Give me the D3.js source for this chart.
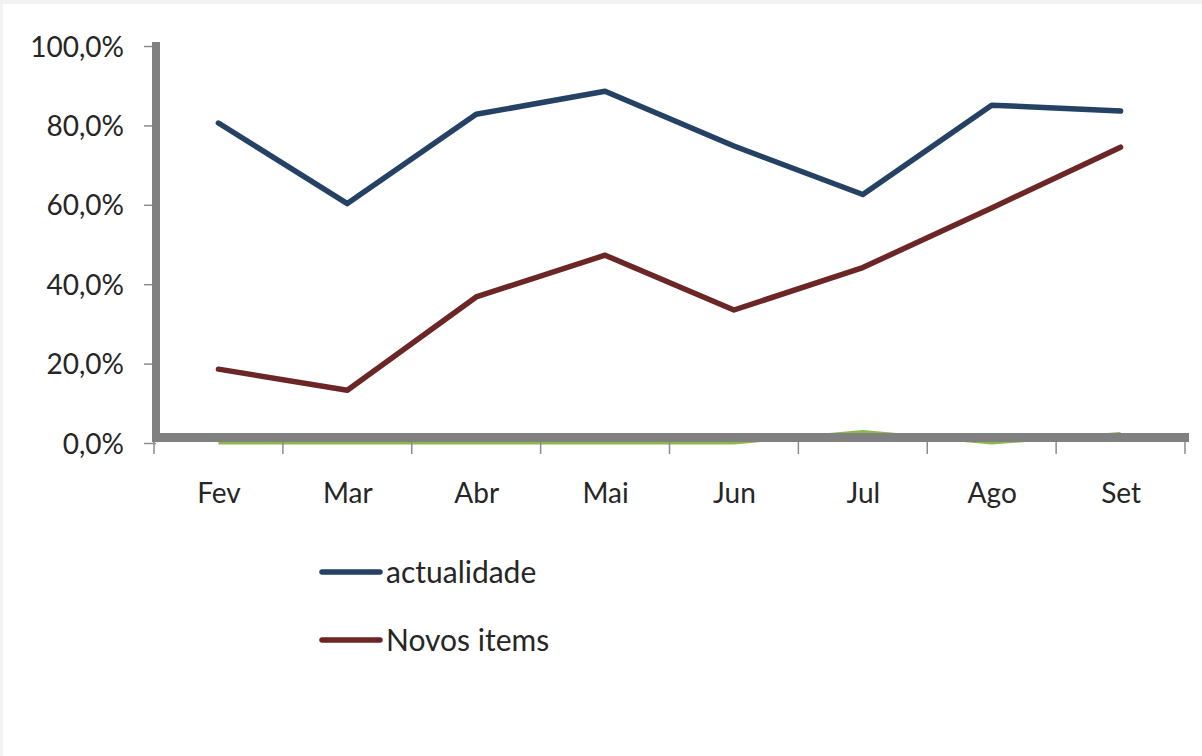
<!DOCTYPE html>
<html>
<head>
<meta charset="utf-8">
<script src="https://cdnjs.cloudflare.com/ajax/libs/d3/7.8.5/d3.min.js"></script>
<style>
  html, body { margin: 0; padding: 0; background: #f2f2f2; overflow: hidden; }
  svg { position: absolute; left: 3px; top: 4px; background: #ffffff; }
  text { font-family: Lato, "Liberation Sans", sans-serif; fill: #262626; }
</style>
</head>
<body>
<svg id="chart" width="1199" height="752"></svg>
<script>
// meses
var meses = ["Fev", "Mar", "Abr", "Mai", "Jun", "Jul", "Ago", "Set"];

// valores em %
var actualidade = [80.6, 60.3, 82.8, 88.6, 74.8, 62.6, 85.1, 83.6];
var novosItems  = [18.6, 13.3, 36.8, 47.3, 33.5, 44.2, 59.2, 74.5];
var outros      = [0, 0, 0, 0, 0, 2.9, 0, 2.4];

var yTicks = [0, 20, 40, 60, 80, 100];

var series = [
	{nome: "actualidade", valores: actualidade, cor: "#254264", legenda: true},
	{nome: "Novos items", valores: novosItems, cor: "#6b2625", legenda: true},
	{nome: "outros", valores: outros, cor: "#8fb84a", legenda: false}
];

// svg is offset by (3,4) inside the page
var ox = 3, oy = 4;
var svg = d3.select("#chart");
var g = svg.append("g").attr("transform", "translate(" + (-ox) + "," + (-oy) + ")");

var xBand = d3.scaleBand().domain(meses).range([154, 1185]);
var x = d3.scalePoint().domain(meses).range([154, 1185]).padding(0.5);
var y = d3.scaleLinear().domain([0, 100]).range([443, 46]);

var fmt = function(v){ return d3.format(".1f")(v).replace(".", ",") + "%"; };

var linha = function(vals){
	return d3.line()
		.x(function(d, i){ return x(meses[i]); })
		.y(function(d){ return y(d); })(vals);
};

// serie verde primeiro, fica por baixo do eixo
g.append("path")
	.attr("d", linha(outros))
	.attr("fill", "none")
	.attr("stroke", series[2].cor)
	.attr("stroke-width", 3)
	.attr("stroke-linejoin", "round");

// eixo y
var yAxis = g.append("g").attr("transform", "translate(156,0)")
	.call(d3.axisLeft(y).tickValues(yTicks).tickSize(12).tickPadding(20).tickFormat(fmt));
yAxis.select(".domain").remove();
yAxis.selectAll(".tick line").attr("stroke", "#8c8c8c").attr("stroke-width", 1.5);
yAxis.selectAll(".tick text")
	.attr("font-size", 28)
	.attr("font-family", "Lato, 'Liberation Sans', sans-serif")
	.attr("fill", "#262626")
	.attr("dy", "0.36em");

g.append("line")
	.attr("x1", 156).attr("x2", 156)
	.attr("y1", 42).attr("y2", 442)
	.attr("stroke", "#808080").attr("stroke-width", 8);

// eixo x
var xAxis = g.append("g").attr("transform", "translate(0,443)")
	.call(d3.axisBottom(x).tickSize(0).tickPadding(40));
xAxis.select(".domain").remove();
xAxis.selectAll(".tick text")
	.attr("font-size", 28)
	.attr("font-family", "Lato, 'Liberation Sans', sans-serif")
	.attr("fill", "#262626");

var fronteiras = meses.map(function(m){ return xBand(m); }).concat([xBand.range()[1]]);
g.selectAll(".xtick").data(fronteiras).enter().append("line")
	.attr("class", "xtick")
	.attr("x1", function(d){ return d; }).attr("x2", function(d){ return d; })
	.attr("y1", 442).attr("y2", 454)
	.attr("stroke", "#8c8c8c").attr("stroke-width", 1.5);

g.append("line")
	.attr("x1", 152).attr("x2", 1189)
	.attr("y1", 437.5).attr("y2", 437.5)
	.attr("stroke", "#808080").attr("stroke-width", 9);

// linhas principais
series.slice(0, 2).forEach(function(s){
	g.append("path")
		.attr("d", linha(s.valores))
		.attr("fill", "none")
		.attr("stroke", s.cor)
		.attr("stroke-width", 5.5)
		.attr("stroke-linejoin", "round")
		.attr("stroke-linecap", "round");
});

// legenda
var leg = g.selectAll(".leg").data(series.filter(function(s){ return s.legenda; }))
	.enter().append("g").attr("class", "leg")
	.attr("transform", function(d, i){ return "translate(322," + (572 + i * 68) + ")"; });
leg.append("line")
	.attr("x1", 0).attr("x2", 58)
	.attr("stroke", function(d){ return d.cor; })
	.attr("stroke-width", 5.5)
	.attr("stroke-linecap", "round");
leg.append("text")
	.attr("x", 64).attr("dy", "0.36em")
	.attr("font-size", 30)
	.text(function(d){ return d.nome; });
</script>
</body>
</html>
